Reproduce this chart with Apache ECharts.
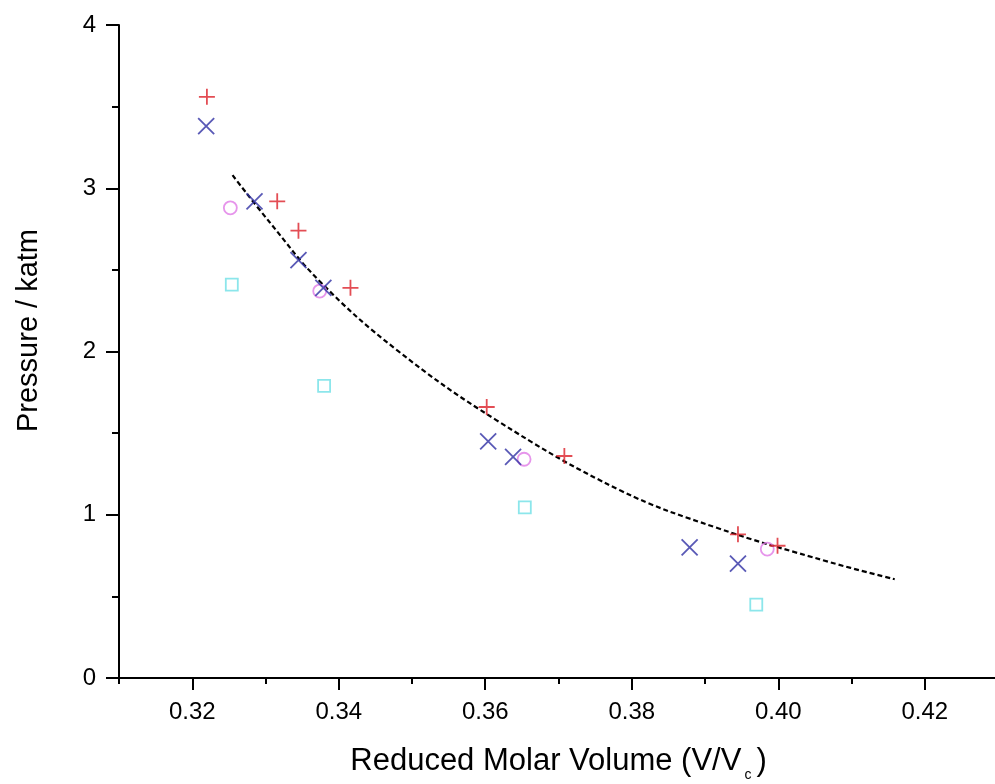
<!DOCTYPE html>
<html>
<head>
<meta charset="utf-8">
<title>Pressure vs Reduced Molar Volume</title>
<script src="https://cdn.jsdelivr.net/npm/echarts@6/dist/echarts.min.js"></script>
<style>
    html, body { margin: 0; padding: 0; background: #fff; }
    #chart { width: 995px; height: 784px; }
</style>
</head>
<body>
<div id="chart"></div>
<script>
    // data
    var plusX = [0.3220, 0.3316, 0.3345, 0.3416, 0.3602, 0.3708, 0.3945, 0.3999];
    var plusY = [3.56, 2.92, 2.74, 2.39, 1.66, 1.36, 0.88, 0.81];

    var crossX = [0.3219, 0.3285, 0.3345, 0.3379, 0.3604, 0.3638, 0.3879, 0.3945];
    var crossY = [3.38, 2.92, 2.56, 2.39, 1.45, 1.355, 0.80, 0.70];

    var circleX = [0.3252, 0.3374, 0.3653, 0.3985];
    var circleY = [2.88, 2.37, 1.34, 0.79];

    var squareX = [0.3254, 0.3380, 0.3654, 0.3970];
    var squareY = [2.41, 1.79, 1.045, 0.45];

    // dashed fit curve, sampled along the drawn line
    var fitX = [0.3255, 0.3306, 0.3374, 0.3479, 0.3615, 0.3784, 0.3916, 0.4070, 0.4159];
    var fitY = [3.08, 2.79, 2.43, 2.01, 1.58, 1.15, 0.92, 0.71, 0.605];

    var yTicks = [0, 1, 2, 3, 4];

    function pairs(xs, ys) {
        var out = [];
        for (var i = 0; i < xs.length; i++) {
            out.push([xs[i], ys[i]]);
        }
        return out;
    }

    var font = 'Liberation Sans, Arial, sans-serif';
    var myChart = echarts.init(document.getElementById('chart'));
    var option = {
        backgroundColor: '#ffffff',
        animation: false,
        grid: [
            { left: 119, top: 25, width: 879, height: 653, outerBoundsMode: 'none' },
            // second grid only carries the major x ticks/labels (starts at 0.32)
            { left: 192.25, top: 25, width: 879, height: 653, outerBoundsMode: 'none' }
        ],
        xAxis: [
            {
                type: 'value',
                gridIndex: 0,
                min: 0.31,
                max: 0.43,
                interval: 0.01,
                name: 'Reduced Molar Volume (V/V{sub|c})',
                nameLocation: 'middle',
                nameGap: 62,
                nameTextStyle: {
                    fontFamily: font,
                    fontSize: 31,
                    color: '#000',
                    rich: {
                        sub: { fontFamily: font, fontSize: 14, color: '#000', padding: [28, 5, 0, 3] }
                    }
                },
                splitLine: { show: false },
                axisLine: { onZero: false, lineStyle: { color: '#000', width: 2 } },
                axisTick: { length: 6, lineStyle: { color: '#000', width: 2 } },
                axisLabel: { show: false }
            },
            {
                type: 'value',
                gridIndex: 1,
                min: 0.32,
                max: 0.44,
                interval: 0.02,
                splitLine: { show: false },
                axisLine: { show: false, onZero: false },
                axisTick: { length: 12, lineStyle: { color: '#000', width: 2 } },
                axisLabel: {
                    margin: 22,
                    fontFamily: font,
                    fontSize: 24,
                    color: '#000',
                    showMaxLabel: false,
                    formatter: function (v) { return v.toFixed(2); }
                }
            }
        ],
        yAxis: [
            {
                type: 'value',
                gridIndex: 0,
                min: 0,
                max: 4,
                interval: 1,
                name: 'Pressure / katm',
                nameLocation: 'middle',
                nameGap: 76,
                nameTextStyle: {
                    fontFamily: font,
                    fontSize: 29,
                    color: '#000',
                    padding: [0, 0, 0, 42]
                },
                splitLine: { show: false },
                axisLine: { onZero: false, lineStyle: { color: '#000', width: 2 } },
                axisTick: { length: 13, lineStyle: { color: '#000', width: 2 } },
                minorTick: { show: true, splitNumber: 2, length: 7, lineStyle: { color: '#000', width: 2 } },
                axisLabel: {
                    margin: 23,
                    fontFamily: font,
                    fontSize: 24,
                    color: '#000',
                    formatter: function (v) { return yTicks.indexOf(v) >= 0 ? String(v) : ''; }
                }
            },
            {
                type: 'value',
                gridIndex: 1,
                min: 0,
                max: 4,
                show: false
            }
        ],
        series: [
            {
                name: 'fit',
                type: 'line',
                data: pairs(fitX, fitY),
                symbol: 'none',
                smooth: 0.4,
                lineStyle: { color: '#000', width: 2.2, type: [5, 3] },
                z: 1
            },
            {
                name: 'plus',
                type: 'scatter',
                data: pairs(plusX, plusY),
                symbol: 'path://M0,-1L0,1M-1,0L1,0',
                symbolSize: 16,
                itemStyle: { color: 'transparent', borderColor: '#dc2029', borderWidth: 1.8 },
                z: 3
            },
            {
                name: 'cross',
                type: 'scatter',
                data: pairs(crossX, crossY),
                symbol: 'path://M-1,-1L1,1M-1,1L1,-1',
                symbolSize: 16,
                itemStyle: { color: 'transparent', borderColor: '#3030a4', borderWidth: 1.8 },
                z: 3
            },
            {
                name: 'circle',
                type: 'scatter',
                data: pairs(circleX, circleY),
                symbol: 'circle',
                symbolSize: 13,
                itemStyle: { color: 'transparent', borderColor: '#e07ae6', borderWidth: 1.8 },
                z: 2
            },
            {
                name: 'square',
                type: 'scatter',
                data: pairs(squareX, squareY),
                symbol: 'rect',
                symbolSize: 12,
                itemStyle: { color: 'transparent', borderColor: '#6fe0e6', borderWidth: 1.8 },
                z: 2
            }
        ]
    };
    myChart.setOption(option);
    window.addEventListener("resize", function () {
        myChart.resize();
    }, false);
</script>
</body>
</html>
